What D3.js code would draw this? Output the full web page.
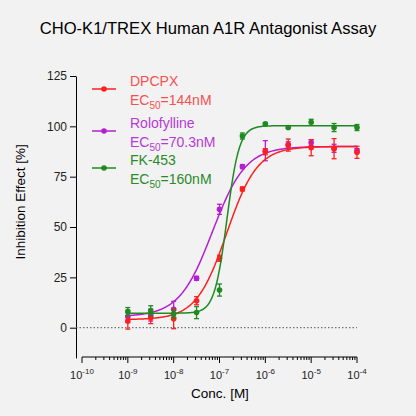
<!DOCTYPE html><html><head><script src="https://cdn.jsdelivr.net/npm/d3@7"></script>
<style>body{margin:0;background:#f2f2f2}text{font-family:Arial,"Liberation Sans",sans-serif}</style></head><body><svg id="c" width="416" height="416"></svg>
<script>
const conc=[1e-9,3.16e-9,1e-8,3.16e-8,1e-7,3.16e-7,1e-6,3.16e-6,1e-5,3.16e-5,1e-4];
const dpcpx=[3.3,5.0,4.5,13.4,34.5,68.9,87.4,90.7,89.4,88.9,87.1];
const dpcpxErr=[4,3,5,2,1.5,1,1.5,3,4,5,3];
const rolo=[5.5,6.3,9.1,24.5,58.8,80,87.9,90.8,91.9,89.1,88];
const roloErr=[3,3,4,1,2.5,1,5,1.5,1.5,2,1];
const fk=[8,8.4,6.8,7.5,18.7,95.2,101.2,99.4,102,99.4,99.4];
const fkErr=[2,2.5,2,3,3,1.5,0.5,0.5,1.5,2,1.5];
const names=["DPCPX","Rolofylline","FK-453"];
const ec50s=["144nM","70.3nM","160nM"];
const colors=["#ff1f1f","#b61fd1","#1f8a1f"];
const textColors=["#f55050","#b63ad8","#2a8a2a"];
const fitBottom=[4,5.5,7.2],fitTop=[90,90,100.3],fitEC=[1.44e-7,7.03e-8,1.45e-7],fitHill=[1.3,1.2,3.2];
const yTicks=[0,25,50,75,100,125];
const xTicks=[-10,-9,-8,-7,-6,-5,-4];
const svg=d3.select("#c");
const x=d3.scaleLog().domain([1e-10,1e-4]).range([82,357]);
const y=d3.scaleLinear().domain([0,125]).range([327.7,76]);
const yAxisY=d3.scaleLinear().domain([-15,125]).range([y(-15),76]);
svg.append("text").attr("x",208).attr("y",34).attr("text-anchor","middle").attr("font-size",16.6).text("CHO-K1/TREX Human A1R Antagonist Assay");
const ga=svg.append("g").attr("transform","translate(76,0)").call(d3.axisLeft(yAxisY).tickValues(yTicks).tickSize(6).tickSizeOuter(0));
ga.selectAll("text").attr("font-size",12).attr("fill","#222");
const minor=[];for(let e=-10;e<-4;e++)for(let k=1;k<10;k++)minor.push(k*Math.pow(10,e));minor.push(1e-4);
const gx=svg.append("g").attr("transform","translate(0,357)");
gx.append("line").attr("x1",82).attr("x2",357).attr("stroke","#000");
gx.selectAll("line.t").data(minor).join("line").attr("x1",d=>x(d)).attr("x2",d=>x(d)).attr("y1",0).attr("y2",d=>Math.abs(Math.log10(d)-Math.round(Math.log10(d)))<1e-9?6:3).attr("stroke","#000");
gx.selectAll("text").data(xTicks).join("text").attr("x",d=>x(Math.pow(10,d))).attr("y",22).attr("text-anchor","middle").attr("font-size",11).attr("fill","#222")
 .each(function(d){const t=d3.select(this);t.append("tspan").text("10");t.append("tspan").attr("dy",-5).attr("font-size",8).text(d);});
svg.append("line").attr("x1",76).attr("x2",357).attr("y1",y(0)).attr("y2",y(0)).attr("stroke","#555").attr("stroke-dasharray","1.5,2");
svg.append("text").attr("transform","translate(25,"+y(62.5)+") rotate(-90)").attr("text-anchor","middle").attr("font-size",13.5).text("Inhibition Effect [%]");
svg.append("text").attr("x",220).attr("y",398).attr("text-anchor","middle").attr("font-size",13.5).text("Conc. [M]");
const series=[[dpcpx,dpcpxErr],[rolo,roloErr],[fk,fkErr]];
const curveX=d3.range(-9,-3.99,0.02).map(e=>Math.pow(10,e));
[1,0,2].forEach(i=>{
 const f=c=>fitBottom[i]+(fitTop[i]-fitBottom[i])/(1+Math.pow(fitEC[i]/c,fitHill[i]));
 svg.append("path").datum(curveX).attr("fill","none").attr("stroke",colors[i]).attr("stroke-width",1.5)
  .attr("d",d3.line().x(d=>x(d)).y(d=>y(f(d))));
 const g=svg.append("g").attr("stroke",colors[i]).attr("stroke-width",1.3);
 series[i][0].forEach((v,j)=>{const cx=x(conc[j]),e=series[i][1][j];
  g.append("line").attr("x1",cx).attr("x2",cx).attr("y1",y(v-e)).attr("y2",y(v+e));
  g.append("line").attr("x1",cx-2.5).attr("x2",cx+2.5).attr("y1",y(v-e)).attr("y2",y(v-e));
  g.append("line").attr("x1",cx-2.5).attr("x2",cx+2.5).attr("y1",y(v+e)).attr("y2",y(v+e));
  g.append("circle").attr("cx",cx).attr("cy",y(v)).attr("r",2.8).attr("fill",colors[i]).attr("stroke","none");});
});
const ly=[89,131,168];
names.forEach((n,i)=>{
 svg.append("line").attr("x1",92).attr("x2",116).attr("y1",ly[i]).attr("y2",ly[i]).attr("stroke",colors[i]).attr("stroke-width",1.5);
 svg.append("circle").attr("cx",104).attr("cy",ly[i]).attr("r",2.8).attr("fill",colors[i]);
 svg.append("text").attr("x",130).attr("y",ly[i]-3).attr("font-size",14).attr("fill",textColors[i]).text(n);
 const t=svg.append("text").attr("x",130).attr("y",ly[i]+16).attr("font-size",14).attr("fill",textColors[i]);
 t.append("tspan").text("EC");t.append("tspan").attr("dy",4).attr("font-size",10).text("50");t.append("tspan").attr("dy",-4).text("="+ec50s[i]);
});
</script></body></html>
